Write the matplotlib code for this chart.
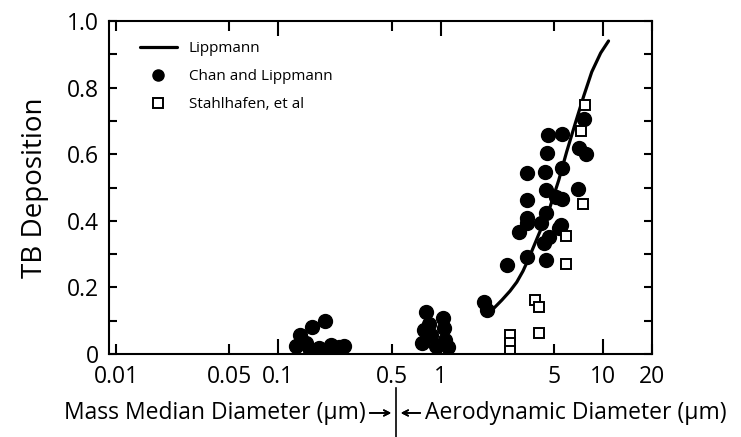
import matplotlib
matplotlib.use("Agg")
import matplotlib.pyplot as plt
from matplotlib.lines import Line2D

plt.rcParams['font.family'] = ['Open Sans', 'DejaVu Sans']

lipp_x = [1.88, 2.13, 2.38, 2.67, 2.94, 3.21, 3.49, 4.02, 4.63, 5.33, 5.97, 6.79, 7.60, 8.51, 9.66, 10.8]
lipp_y = [0.120, 0.138, 0.162, 0.189, 0.216, 0.249, 0.288, 0.360, 0.430, 0.522, 0.608, 0.698, 0.775, 0.847, 0.904, 0.940]

# Chan and Lippmann (filled circles)
chan_x = [0.129, 0.135, 0.149, 0.156, 0.162, 0.179, 0.195, 0.212, 0.215, 0.238, 0.255,
          0.769, 0.791, 0.813, 0.849, 0.873, 0.937, 1.035, 1.05, 1.064, 1.11,
          1.85, 1.93, 2.56, 3.39, 4.44, 4.32, 4.63, 5.34, 3.03, 3.39, 4.14, 3.39,
          4.44, 5.49, 3.39, 4.44, 5.11, 5.57, 6.98, 3.39, 4.38, 5.57, 4.50, 7.08,
          7.82, 4.57, 5.57, 7.60]
chan_y = [0.024, 0.057, 0.033, 0.012, 0.080, 0.018, 0.100, 0.027, 0.006, 0.021, 0.024,
          0.033, 0.072, 0.126, 0.090, 0.057, 0.024, 0.108, 0.078, 0.042, 0.021,
          0.157, 0.132, 0.267, 0.291, 0.282, 0.333, 0.351, 0.378, 0.366, 0.393, 0.393, 0.408,
          0.423, 0.387, 0.462, 0.492, 0.471, 0.465, 0.495, 0.544, 0.547, 0.559, 0.604, 0.619,
          0.601, 0.658, 0.661, 0.706]

# Stahlhafen, et al (open squares)
stahl_x = [7.70, 7.29, 7.50, 5.90, 5.90, 3.80, 4.02, 4.02, 2.67, 2.67, 2.67]
stahl_y = [0.748, 0.670, 0.450, 0.354, 0.270, 0.162, 0.141, 0.063, 0.057, 0.033, 0.009]

xmajor = [0.1, 1, 10]
xminor = [0.01, 0.05, 0.5, 5, 20]
yticks = [0, 0.2, 0.4, 0.6, 0.8, 1.0]
ylabels = ['0', '0.2', '0.4', '0.6', '0.8', '1.0']

fig = plt.figure(figsize=(7.41, 4.37), dpi=100)
ax = fig.add_axes([109/741, 83/437, 543/741, 333/437])

ax.plot(lipp_x, lipp_y, color='black', lw=2.3, label='Lippmann', solid_capstyle='round')
ax.plot(chan_x, chan_y, 'o', color='black', ms=10, label='Chan and Lippmann')
ax.plot(stahl_x, stahl_y, 's', mfc='white', mec='black', mew=1.4, ms=7.5,
        label='Stahlhafen, et al')

ax.set_xscale('log')
ax.set_xlim(0.00906, 20)
ax.set_ylim(0, 1.0)

ax.set_xticks(xmajor)
ax.set_xticklabels(['0.1', '1', '10'])
ax.set_xticks(xminor, minor=True)
ax.set_xticklabels(['0.01', '0.05', '0.5', '5', '20'], minor=True)
ax.set_yticks(yticks)
ax.set_yticklabels(ylabels)
ax.set_yticks([0.1, 0.3, 0.5, 0.7, 0.9], minor=True)

ax.tick_params(axis='x', which='major', direction='in', length=11, width=1.5,
               top=True, labelsize=16.5, pad=8)
ax.tick_params(axis='x', which='minor', direction='in', length=7.5, width=1.5,
               top=True, labelsize=16.5, pad=8)
ax.tick_params(axis='y', which='both', direction='in', length=5.5, width=1.5,
               right=True, labelsize=16.5, pad=7)
for s in ax.spines.values():
    s.set_linewidth(1.5)

ax.set_ylabel('TB Deposition', fontsize=20, labelpad=13)

leg = ax.legend(loc='upper left', bbox_to_anchor=(0.057, 0.94), frameon=False,
                fontsize=11, handlelength=2.4, handletextpad=0.8,
                labelspacing=0.85, borderpad=0, borderaxespad=0)
leg.legend_handles[1].set_markersize(8)

# bottom labels with arrows
fig.text(366/741, 0.055, 'Mass Median Diameter (µm)', ha='right', va='center', fontsize=16.5)
fig.text(425/741, 0.055, 'Aerodynamic Diameter (µm)', ha='left', va='center', fontsize=16.5)
fig.add_artist(Line2D([396/741, 396/741], [0, 49/437], color='black', lw=1.2))
fig.add_artist(plt.annotate('', xy=(394/741, 0.055), xytext=(367/741, 0.055),
                            xycoords='figure fraction',
                            arrowprops=dict(arrowstyle='->', lw=1.2, color='black')))
fig.add_artist(plt.annotate('', xy=(398/741, 0.055), xytext=(423/741, 0.055),
                            xycoords='figure fraction',
                            arrowprops=dict(arrowstyle='->', lw=1.2, color='black')))

fig.savefig('out.png', dpi=100)
